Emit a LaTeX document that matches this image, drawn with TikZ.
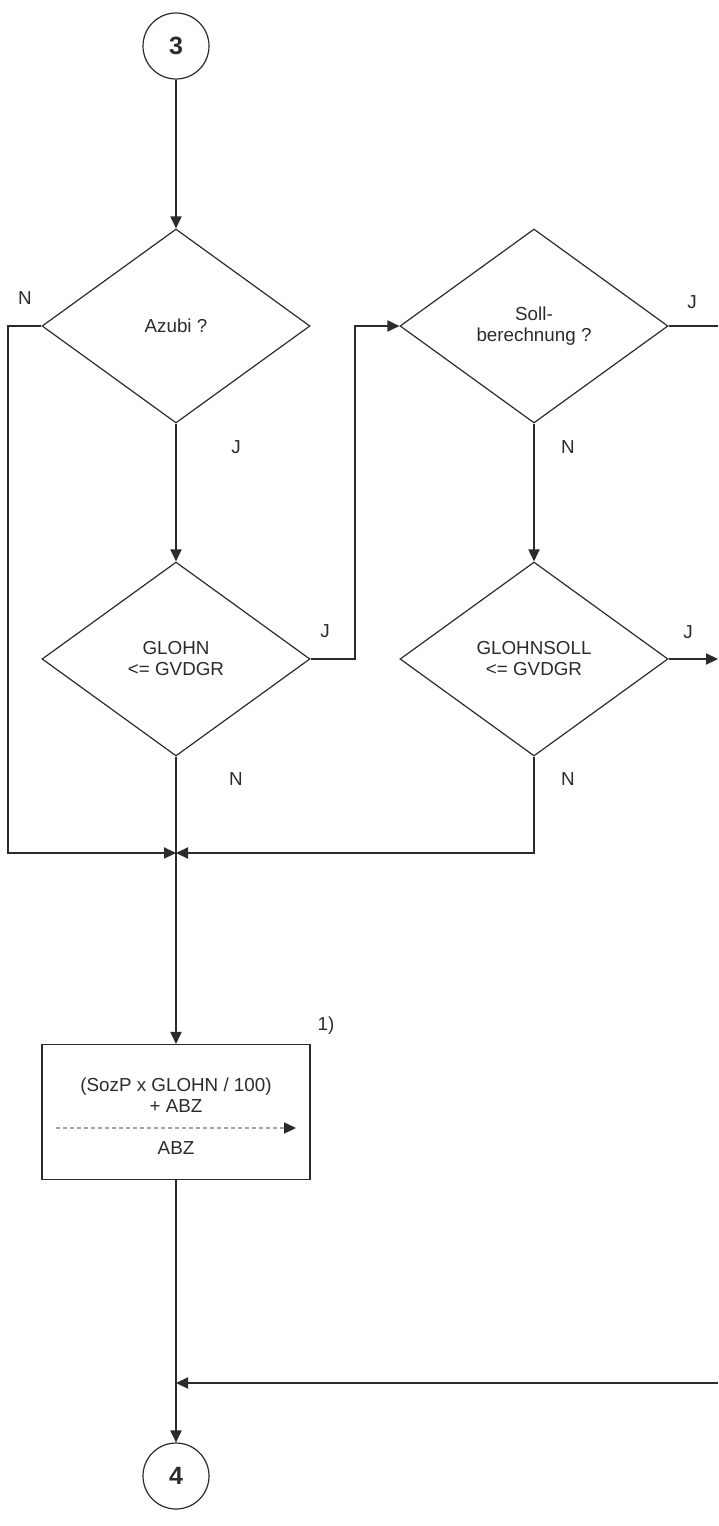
\documentclass[tikz,border=0pt]{standalone}
\usepackage{fontspec}
\setmainfont{Liberation Sans}
\usetikzlibrary{shapes.geometric,arrows.meta}
\definecolor{ln}{HTML}{2B2B2B}
\begin{document}
\begin{tikzpicture}[x=0.5pt,y=-0.5pt,
  every node/.style={font=\fontsize{9.4}{10.5}\selectfont,text=ln},
  conn/.style={draw=ln,line width=0.65pt},
  arr/.style={conn,-{Triangle[length=6pt,width=5.6pt]}},
  conncirc/.style={circle,draw=ln,line width=0.6pt,minimum size=33pt,inner sep=0pt,font=\fontsize{12.5}{14}\selectfont\bfseries},
  decision/.style={diamond,draw=ln,line width=0.6pt,minimum width=134pt,minimum height=97pt,inner sep=0pt,align=center},
  procbox/.style={rectangle,draw=ln,line width=0.6pt,minimum width=134pt,minimum height=67.5pt,inner sep=0pt},
  lbl/.style={inner sep=0pt}]
\useasboundingbox (0,0) rectangle (718,1526);

\node[conncirc] (c3) at (176,46) {3};
\node[decision] (d1) at (176,326) {Azubi ?};
\node[decision] (d2) at (176,659) {GLOHN\\<= GVDGR};
\node[decision] (d3) at (534,326) {Soll-\\berechnung ?};
\node[decision] (d4) at (534,659) {GLOHNSOLL\\<= GVDGR};
\node[procbox] (r) at (176,1112) {};
\node[lbl] (t1) at (176,1087) {(SozP x GLOHN / 100)};
\node[lbl] (t2) at (176,1106) {+ ABZ};
\node[lbl] (t3) at (176,1148) {ABZ};
\coordinate (da) at (56,1128);
\coordinate (db) at (296,1128);
\node[conncirc] (c4) at (176,1476) {4};

\coordinate (j) at (176,853);
\coordinate (lt) at (8,326);
\coordinate (k) at (355,659);
\coordinate (e1) at (718,326);
\coordinate (e2) at (718,659);
\coordinate (e3) at (718,1383);
\coordinate (m) at (176,1383);

% labels
\node[lbl] (n1) at (25,298) {N};
\node[lbl] (j1) at (236,447) {J};
\node[lbl] (j2) at (325,631) {J};
\node[lbl] (j3) at (692,302) {J};
\node[lbl] (n2) at (568,447) {N};
\node[lbl] (j4) at (688,632) {J};
\node[lbl] (n3) at (236,779) {N};
\node[lbl] (n4) at (568,779) {N};
\node[lbl] (fn) at (326,1026) {1)};

% connectors
\draw[arr] (c3) -- (d1.north);
\draw[arr] (d1.west) -- (lt) |- (j);
\draw[arr] (d1.south) -- (d2.north);
\draw[arr] (d2.east) -- (k) |- (d3.west);
\draw[conn] (d3.east) -- (e1);
\draw[arr] (d3.south) -- (d4.north);
\draw[arr] (d4.east) -- (e2);
\draw[arr] (d4.south) |- (j);
\draw[conn] (d2.south) -- (j);
\draw[arr] (j) -- (r.north);
\draw[arr] (r.south) -- (c4.north);
\draw[arr] (e3) -- (m);
\draw[draw=black!35,line width=0.6pt,dash pattern=on 2pt off 1.5pt,-{Triangle[length=6pt,width=5.6pt,color=ln]}] (da) -- (db);
\end{tikzpicture}
\end{document}
